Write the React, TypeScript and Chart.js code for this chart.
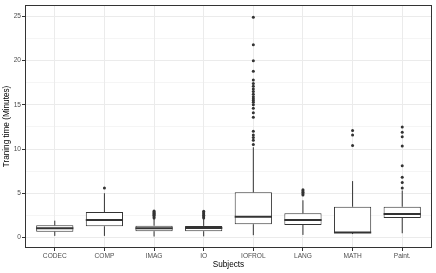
import React, { useEffect, useRef } from "react";
import { Chart, registerables } from "chart.js";

Chart.register(...registerables);

const categories = ["CODEC", "COMP", "IMAG", "IO", "IOFROL", "LANG", "MATH", "Paint."];
const lowerWhisker = [0.17, 0.17, 0.1, 0.12, 0.25, 0.28, 0.38, 0.47];
const q1 = [0.65, 1.26, 0.7, 0.7, 1.49, 1.41, 0.5, 2.2];
const median = [1.04, 1.97, 1.04, 1.07, 2.35, 1.97, 0.55, 2.65];
const q3 = [1.37, 2.87, 1.32, 1.3, 5.1, 2.73, 3.47, 3.47];
const upperWhisker = [1.89, 5.0, 2.1, 2.1, 10.2, 4.2, 6.37, 5.3];
const outliersByCategory: number[][] = [
  [],
  [5.6],
  [2.2, 2.35, 2.5, 2.6, 2.7, 2.8, 2.9, 3.0],
  [2.2, 2.35, 2.5, 2.65, 2.8, 2.95],
  [24.9, 21.8, 20.0, 18.8, 17.8, 17.4, 17.1, 16.8, 16.5, 16.2, 15.9, 15.7, 15.5, 15.3, 15.0, 14.6, 14.1, 13.6, 12.0, 11.6, 11.3, 11.0, 10.5],
  [4.8, 4.95, 5.1, 5.25, 5.4],
  [10.4, 11.6, 12.1],
  [5.6, 6.2, 6.8, 8.1, 10.35, 11.4, 11.9, 12.5],
];
const yMajorTicks = [0, 5, 10, 15, 20, 25];
const yMinorTicks = [2.5, 7.5, 12.5, 17.5, 22.5];
const yTitle = "Traning time (Minutes)";
const xTitle = "Subjects";

const INK = "#333333";
const GRID = "#EBEBEB";
const BOX_HALF = 0.375;

const panelBorder = {
  id: "panelBorder",
  afterDatasetsDraw(chart: any) {
    const { ctx, chartArea } = chart;
    ctx.save();
    ctx.strokeStyle = INK;
    ctx.lineWidth = 1;
    ctx.strokeRect(
      Math.round(chartArea.left) + 0.5,
      Math.round(chartArea.top) + 0.5,
      Math.round(chartArea.right - chartArea.left) - 1,
      Math.round(chartArea.bottom - chartArea.top) - 1
    );
    ctx.restore();
  },
};

export default function App() {
  const ref = useRef<HTMLCanvasElement | null>(null);

  useEffect(() => {
    if (!ref.current) return;
    Chart.defaults.font.family = "'Liberation Sans', Arial, sans-serif";

    const boxData = categories.map((_, i) => ({ x: i, y: [q1[i], q3[i]] }));
    const whiskerData: any[] = [];
    categories.forEach((_, i) => {
      whiskerData.push({ x: i, y: lowerWhisker[i] }, { x: i, y: q1[i] }, { x: i, y: null });
      whiskerData.push({ x: i, y: q3[i] }, { x: i, y: upperWhisker[i] }, { x: i, y: null });
    });
    const medianData: any[] = [];
    categories.forEach((_, i) => {
      medianData.push({ x: i - BOX_HALF, y: median[i] }, { x: i + BOX_HALF, y: median[i] }, { x: i, y: null });
    });
    const outlierData = categories.flatMap((_, i) => outliersByCategory[i].map((v) => ({ x: i, y: v })));

    const yAll = [...yMajorTicks, ...yMinorTicks].sort((a, b) => a - b);
    const isMajor = (v: number) => yMajorTicks.includes(v);

    const chart = new Chart(ref.current, {
      type: "bar",
      data: {
        datasets: [
          {
            type: "line",
            data: outlierData,
            showLine: false,
            pointRadius: 1.5,
            pointBackgroundColor: INK,
            pointBorderWidth: 0,
            order: 0,
          } as any,
          {
            type: "line",
            data: medianData,
            borderColor: INK,
            borderWidth: 2,
            pointRadius: 0,
            spanGaps: false,
            borderCapStyle: "butt",
            order: 1,
          } as any,
          {
            type: "bar",
            data: boxData,
            backgroundColor: "#FFFFFF",
            borderColor: INK,
            borderWidth: 1,
            borderSkipped: false,
            barPercentage: 0.75,
            categoryPercentage: 1,
            order: 2,
          } as any,
          {
            type: "line",
            data: whiskerData,
            borderColor: INK,
            borderWidth: 1,
            pointRadius: 0,
            spanGaps: false,
            order: 3,
          } as any,
        ],
      },
      options: {
        animation: false,
        responsive: false,
        layout: { padding: { top: 4, right: 4, left: 0, bottom: 0 } },
        plugins: { legend: { display: false }, tooltip: { enabled: false } },
        scales: {
          x: {
            type: "linear",
            min: -0.6,
            max: 7.6,
            offset: false,
            afterBuildTicks: (s: any) => {
              s.ticks = categories.map((_, i) => ({ value: i }));
            },
            afterFit: (s: any) => {
              s.height = 25;
            },
            grid: { offset: false, color: GRID, lineWidth: 1, drawTicks: true, tickLength: 3, tickColor: INK, tickWidth: 1 },
            border: { display: false },
            ticks: {
              autoSkip: false,
              maxRotation: 0,
              padding: 1,
              color: "#4D4D4D",
              font: { size: 6.6 },
              callback: (v: any) => categories[v] ?? "",
            },
            title: {
              display: true,
              text: xTitle,
              color: "#000000",
              font: { size: 8.2 },
              padding: { top: 0, bottom: 3 },
            },
          },
          y: {
            type: "linear",
            min: -1.2,
            max: 26.3,
            beginAtZero: false,
            afterBuildTicks: (s: any) => {
              s.ticks = yAll.map((v) => ({ value: v }));
            },
            afterFit: (s: any) => {
              s.width = 25;
            },
            grid: {
              color: GRID,
              lineWidth: (c: any) => (c.tick && isMajor(c.tick.value) ? 1 : 0.5),
              drawTicks: true,
              tickLength: 3,
              tickColor: (c: any) => (c.tick && isMajor(c.tick.value) ? INK : "rgba(0,0,0,0)"),
              tickWidth: 1,
            },
            border: { display: false },
            ticks: {
              autoSkip: false,
              padding: 1,
              color: "#4D4D4D",
              font: { size: 6.6 },
              callback: (v: any) => (isMajor(v) ? String(v) : ""),
            },
            title: {
              display: true,
              text: yTitle,
              color: "#000000",
              font: { size: 8.2 },
              padding: { top: 2, bottom: 0 },
            },
          },
        },
      } as any,
      plugins: [panelBorder],
    });
    return () => chart.destroy();
  }, []);

  return (
    <div style={{ position: "fixed", left: 0, top: 0, width: 436, height: 273, background: "#FFFFFF" }}>
      <canvas ref={ref} width={436} height={273} style={{ display: "block" }} />
    </div>
  );
}
